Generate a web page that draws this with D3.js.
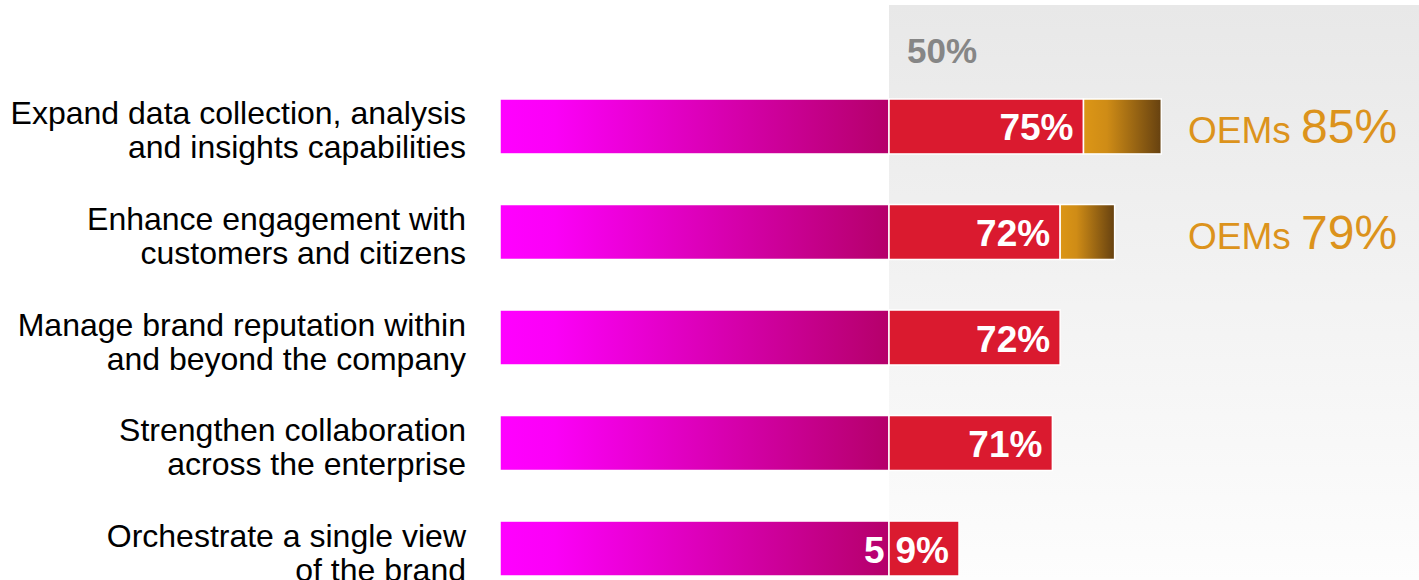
<!DOCTYPE html>
<html lang="en">
<head>
<meta charset="UTF-8">
<title>Chart</title>
<style>
html, body { margin: 0; padding: 0; background: #fff; }
body { font-family: 'Liberation Sans', Arial, sans-serif; }
#chart { width: 1419px; height: 580px; overflow: hidden; }
</style>
</head>
<body>
<div id="chart"></div>
<script src="https://cdnjs.cloudflare.com/ajax/libs/d3/7.8.5/d3.min.js"></script>
<script>

var categories = [
  ["Expand data collection, analysis", "and insights capabilities"],
  ["Enhance engagement with", "customers and citizens"],
  ["Manage brand reputation within", "and beyond the company"],
  ["Strengthen collaboration", "across the enterprise"],
  ["Orchestrate a single view", "of the brand"]
];
var values = [75, 72, 72, 71, 59];
var oemValues = [85, 79, null, null, null];
var baseValue = 50;
var baseLabel = "50%";
var oemLabel = "OEMs";

var width = 1419;
var height = 580;

var svg = d3.select('#chart')
  .append('svg')
  .attr('width', width)
  .attr('height', height);

var defs = svg.append('defs');

var panelGrad = defs.append('linearGradient')
  .attr('id', 'panelGrad')
  .attr('x1', 0).attr('y1', 0).attr('x2', 0).attr('y2', 1);
panelGrad.append('stop').attr('offset', '0%').attr('stop-color', '#e8e8e8');
panelGrad.append('stop').attr('offset', '100%').attr('stop-color', '#fdfdfd');

var magGrad = defs.append('linearGradient')
  .attr('id', 'magGrad')
  .attr('x1', 0).attr('y1', 0).attr('x2', 1).attr('y2', 0);
magGrad.append('stop').attr('offset', '0%').attr('stop-color', '#ff00ff');
magGrad.append('stop').attr('offset', '14%').attr('stop-color', '#fb00f7');
magGrad.append('stop').attr('offset', '100%').attr('stop-color', '#b5006a');

var goldGrad = defs.append('linearGradient')
  .attr('id', 'goldGrad')
  .attr('x1', 0).attr('y1', 0).attr('x2', 1).attr('y2', 0);
goldGrad.append('stop').attr('offset', '0%').attr('stop-color', '#dc9616');
goldGrad.append('stop').attr('offset', '30%').attr('stop-color', '#cf8c16');
goldGrad.append('stop').attr('offset', '100%').attr('stop-color', '#664110');

var x = d3.scaleLinear()
  .domain([0, 50])
  .range([500, 889]);

var y = d3.scaleBand()
  .domain(d3.range(categories.length))
  .range([99, 576])
  .paddingInner(0.479)
  .paddingOuter(0);

var rows = categories.map(function (c, i) {
  return { label: c, value: values[i], oem: oemValues[i], i: i };
});

// grey panel behind the part above 50%
svg.append('rect')
  .attr('x', x(baseValue))
  .attr('y', 5)
  .attr('width', width - x(baseValue))
  .attr('height', height - 5)
  .attr('fill', 'url(#panelGrad)');

svg.append('text')
  .attr('x', x(baseValue) + 18)
  .attr('y', 63)
  .attr('fill', '#868686')
  .attr('font-size', 35)
  .attr('font-weight', 'bold')
  .text(baseLabel);

var row = svg.selectAll('.row')
  .data(rows)
  .enter()
  .append('g')
  .attr('class', 'row');

// category labels
row.append('text')
  .attr('text-anchor', 'end')
  .attr('font-size', 32)
  .attr('fill', '#000')
  .each(function (d) {
    var t = d3.select(this);
    var mid = y(d.i) + y.bandwidth() / 2;
    d.label.forEach(function (line, k) {
      t.append('tspan')
        .attr('x', 466)
        .attr('y', mid + 15 + (k - 0.5) * 34)
        .text(line);
    });
  });

// magenta part up to 50%
row.append('rect')
  .attr('x', x(0))
  .attr('y', function (d) { return y(d.i); })
  .attr('width', x(baseValue) - x(0))
  .attr('height', y.bandwidth())
  .attr('fill', 'url(#magGrad)')
  .attr('stroke', '#fff')
  .attr('stroke-width', 1.5);

// red part 50% -> value
row.append('rect')
  .attr('x', x(baseValue))
  .attr('y', function (d) { return y(d.i); })
  .attr('width', function (d) { return x(d.value) - x(baseValue); })
  .attr('height', y.bandwidth())
  .attr('fill', '#da1a2f')
  .attr('stroke', '#fff')
  .attr('stroke-width', 1.5);

// OEM extension
var oemRows = row.filter(function (d) { return d.oem != null; });

oemRows.append('rect')
  .attr('x', function (d) { return x(d.value); })
  .attr('y', function (d) { return y(d.i); })
  .attr('width', function (d) { return x(d.oem) - x(d.value); })
  .attr('height', y.bandwidth())
  .attr('fill', 'url(#goldGrad)')
  .attr('stroke', '#fff')
  .attr('stroke-width', 1.5);

var oemText = oemRows.append('text')
  .attr('x', 1188)
  .attr('y', function (d) { return y(d.i) + y.bandwidth() / 2 + 17; })
  .attr('fill', '#dc931c');
oemText.append('tspan')
  .attr('font-size', 37)
  .text(oemLabel + ' ');
oemText.append('tspan')
  .attr('font-size', 48)
  .text(function (d) { return d.oem + '%'; });

// value labels (white, bold); when label crosses the 50% line the first digit sits left of it
row.append('text')
  .attr('text-anchor', 'end')
  .attr('x', function (d) { return x(d.value) - 10; })
  .attr('y', function (d) { return y(d.i) + y.bandwidth() / 2 + 14; })
  .attr('fill', '#fff')
  .attr('font-size', 37)
  .attr('font-weight', 'bold')
  .each(function (d) {
    var t = d3.select(this);
    var s = d.value + '%';
    if (x(d.value) - x(baseValue) < 80) {
      t.append('tspan').text(s.slice(0, 1));
      t.append('tspan').attr('dx', 11).text(s.slice(1));
    } else {
      t.text(s);
    }
  });

</script>
</body>
</html>
